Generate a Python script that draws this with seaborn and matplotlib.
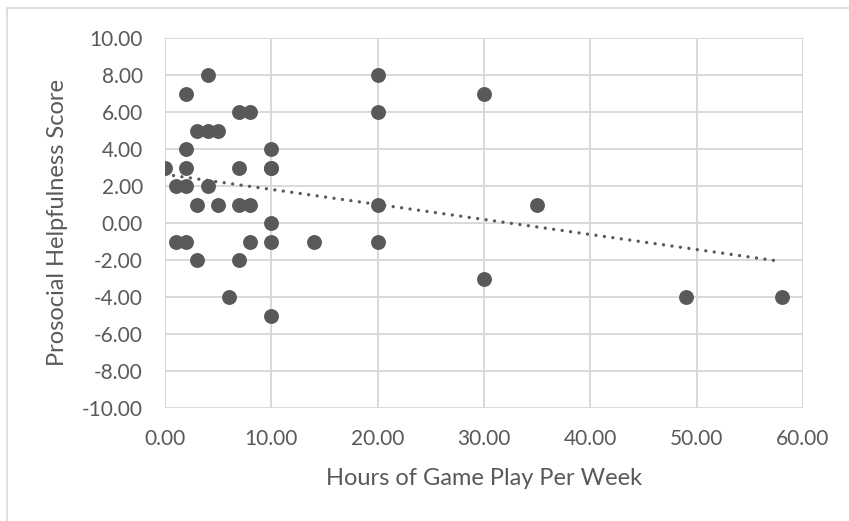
import matplotlib
matplotlib.use("Agg")
import matplotlib.pyplot as plt
import numpy as np
import pandas as pd
import seaborn as sns
from matplotlib.lines import Line2D

# hours of game play per week, prosocial helpfulness score
hours = [4, 2, 7, 8, 3, 4, 5, 2, 10, 0, 2, 7, 10, 10, 1, 2, 4, 3, 5, 7, 8, 10,
         1, 2, 8, 10, 3, 7, 6, 10,
         14, 20, 20, 20, 20, 30, 30, 35, 49, 58]
scores = [8, 7, 6, 6, 5, 5, 5, 4, 4, 3, 3, 3, 3, 3, 2, 2, 2, 1, 1, 1, 1, 0,
          -1, -1, -1, -1, -2, -2, -4, -5,
          -1, 8, 6, 1, -1, 7, -3, 1, -4, -4]

x_ticks = [0, 10, 20, 30, 40, 50, 60]
y_ticks = [-10, -8, -6, -4, -2, 0, 2, 4, 6, 8, 10]

df = pd.DataFrame({"hours": hours, "score": scores})

sns.set_style("white")
plt.rcParams['font.family'] = ['Lato', 'DejaVu Sans']
text_col = "#595959"
grid_col = "#d9d9d9"

fig = plt.figure(figsize=(8.49, 5.21), dpi=100)
ax = fig.add_axes([165 / 849, 1 - 408 / 521, (803 - 165) / 849, (408 - 38) / 521])

sns.regplot(data=df, x="hours", y="score", ax=ax, ci=None, truncate=True,
            scatter_kws=dict(s=115, color="#595959", alpha=1, linewidths=0, zorder=3),
            line_kws=dict(color="#595959", lw=2.4, dashes=(0.01, 2.55),
                          dash_capstyle="round", zorder=4))

ax.set_xlim(0, 60)
ax.set_ylim(-10, 10)
ax.set_xticks(x_ticks)
ax.set_yticks(y_ticks)
ax.set_xticklabels([f"{v:.2f}" for v in x_ticks])
ax.set_yticklabels([f"{v:.2f}" for v in y_ticks])
ax.grid(True, color=grid_col, lw=1.4)
ax.set_axisbelow(True)
for s in ax.spines.values():
    s.set_visible(False)
ax.tick_params(length=0, labelsize=15, labelcolor=text_col)
ax.tick_params(axis="y", pad=16)
ax.tick_params(axis="x", pad=15)
ax.set_xlabel("Hours of Game Play Per Week", fontsize=17, color=text_col, labelpad=14)
ax.set_ylabel("Prosocial Helpfulness Score", fontsize=17, color=text_col, labelpad=10)

# chart outer border
fig.add_artist(Line2D([7 / 849, 7 / 849], [0, 1 - 8 / 521], color=grid_col, lw=1.2,
                      transform=fig.transFigure))
fig.add_artist(Line2D([7 / 849, 1], [1 - 8 / 521, 1 - 8 / 521], color=grid_col, lw=1.2,
                      transform=fig.transFigure))

fig.savefig("out.png", dpi=100)
